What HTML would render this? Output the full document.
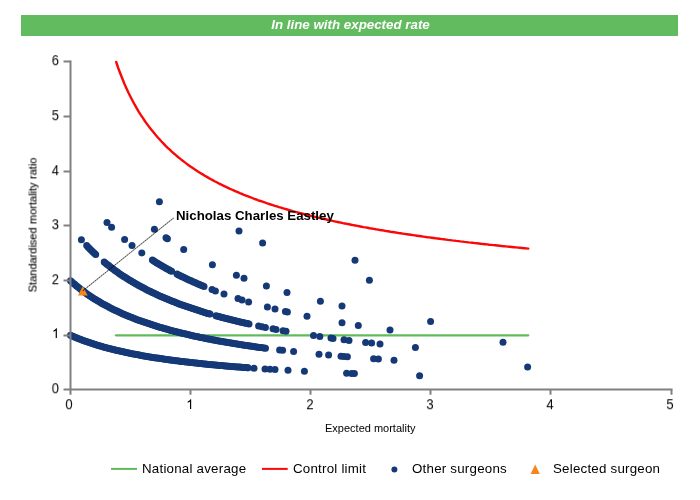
<!DOCTYPE html>
<html><head><meta charset="utf-8"><style>
html,body{margin:0;padding:0;background:#fff;}
body{width:700px;height:500px;position:relative;overflow:hidden;font-family:"Liberation Sans",sans-serif;color:#000;}
.t{position:absolute;white-space:nowrap;line-height:1;will-change:transform;}
#bar{position:absolute;left:21px;top:15px;width:657px;height:21px;background:#62bb5e;}
#title{left:22.2px;width:657px;top:17.5px;text-align:center;color:#fff;font-weight:bold;font-style:italic;font-size:13.33px;}
.yl{font-size:13.4px;width:40px;text-align:right;left:19px;transform-origin:100% 50%;transform:scale(0.96,1.1);}
.xl{font-size:13.4px;width:40px;text-align:center;transform-origin:50% 50%;transform:scale(0.96,1.1);}
.lg{font-size:13.33px;letter-spacing:0.22px;top:462.0px;}
</style></head><body>
<div id="bar"></div>
<div id="title" class="t">In line with expected rate</div>
<svg width="700" height="500" viewBox="0 0 700 500" style="position:absolute;left:0;top:0">
<line x1="115.8" y1="335.3" x2="528.3" y2="335.3" stroke="#62bb5b" stroke-width="2.2" stroke-linecap="round"/>
<path d="M116.2 62.0 L118.2 68.0 L120.3 73.5 L122.4 78.8 L124.4 83.7 L126.5 88.4 L128.5 92.8 L130.6 97.0 L132.7 101.0 L134.7 104.7 L136.8 108.3 L138.8 111.8 L140.9 115.1 L143.0 118.2 L145.0 121.2 L147.1 124.1 L149.1 126.9 L151.2 129.6 L153.3 132.1 L155.3 134.6 L157.4 137.0 L159.5 139.3 L161.5 141.5 L163.6 143.7 L165.6 145.8 L167.7 147.8 L169.8 149.7 L171.8 151.6 L173.9 153.5 L175.9 155.2 L178.0 157.0 L180.1 158.6 L182.1 160.3 L184.2 161.9 L186.2 163.4 L188.3 164.9 L190.4 166.4 L192.4 167.8 L194.5 169.2 L196.5 170.6 L198.6 171.9 L200.7 173.2 L202.7 174.4 L204.8 175.7 L206.9 176.9 L208.9 178.1 L211.0 179.2 L213.0 180.4 L215.1 181.5 L217.2 182.5 L219.2 183.6 L221.3 184.6 L223.3 185.6 L225.4 186.6 L227.5 187.6 L229.5 188.6 L231.6 189.5 L233.6 190.4 L235.7 191.3 L237.8 192.2 L239.8 193.1 L241.9 193.9 L243.9 194.8 L246.0 195.6 L248.1 196.4 L250.1 197.2 L252.2 198.0 L254.3 198.8 L256.3 199.5 L258.4 200.3 L260.4 201.0 L262.5 201.7 L264.6 202.4 L266.6 203.1 L268.7 203.8 L270.7 204.5 L272.8 205.1 L274.9 205.8 L276.9 206.4 L279.0 207.1 L281.0 207.7 L283.1 208.3 L285.2 208.9 L287.2 209.5 L289.3 210.1 L291.3 210.7 L293.4 211.3 L295.5 211.8 L297.5 212.4 L299.6 213.0 L301.7 213.5 L303.7 214.0 L305.8 214.6 L307.8 215.1 L309.9 215.6 L312.0 216.1 L314.0 216.6 L316.1 217.1 L318.1 217.6 L320.2 218.1 L322.3 218.6 L324.3 219.0 L326.4 219.5 L328.4 220.0 L330.5 220.4 L332.6 220.9 L334.6 221.3 L336.7 221.8 L338.7 222.2 L340.8 222.6 L342.9 223.1 L344.9 223.5 L347.0 223.9 L349.0 224.3 L351.1 224.7 L353.2 225.1 L355.2 225.5 L357.3 225.9 L359.4 226.3 L361.4 226.7 L363.5 227.1 L365.5 227.4 L367.6 227.8 L369.7 228.2 L371.7 228.5 L373.8 228.9 L375.8 229.3 L377.9 229.6 L380.0 230.0 L382.0 230.3 L384.1 230.6 L386.1 231.0 L388.2 231.3 L390.3 231.7 L392.3 232.0 L394.4 232.3 L396.4 232.6 L398.5 233.0 L400.6 233.3 L402.6 233.6 L404.7 233.9 L406.8 234.2 L408.8 234.5 L410.9 234.8 L412.9 235.1 L415.0 235.4 L417.1 235.7 L419.1 236.0 L421.2 236.3 L423.2 236.6 L425.3 236.9 L427.4 237.2 L429.4 237.4 L431.5 237.7 L433.5 238.0 L435.6 238.3 L437.7 238.5 L439.7 238.8 L441.8 239.1 L443.8 239.3 L445.9 239.6 L448.0 239.9 L450.0 240.1 L452.1 240.4 L454.2 240.6 L456.2 240.9 L458.3 241.1 L460.3 241.4 L462.4 241.6 L464.5 241.9 L466.5 242.1 L468.6 242.4 L470.6 242.6 L472.7 242.8 L474.8 243.1 L476.8 243.3 L478.9 243.5 L480.9 243.8 L483.0 244.0 L485.1 244.2 L487.1 244.4 L489.2 244.7 L491.2 244.9 L493.3 245.1 L495.4 245.3 L497.4 245.5 L499.5 245.7 L501.6 246.0 L503.6 246.2 L505.7 246.4 L507.7 246.6 L509.8 246.8 L511.9 247.0 L513.9 247.2 L516.0 247.4 L518.0 247.6 L520.1 247.8 L522.2 248.0 L524.2 248.2 L526.3 248.4 L528.3 248.6" stroke="#fa0808" stroke-width="2.4" fill="none" stroke-linecap="round"/>
<g fill="#153977"><circle cx="70.5" cy="335.2" r="3.5"/><circle cx="72.0" cy="335.9" r="3.5"/><circle cx="73.5" cy="336.6" r="3.5"/><circle cx="75.0" cy="337.2" r="3.5"/><circle cx="76.5" cy="337.8" r="3.5"/><circle cx="78.0" cy="338.4" r="3.5"/><circle cx="79.5" cy="339.0" r="3.5"/><circle cx="81.0" cy="339.6" r="3.5"/><circle cx="82.5" cy="340.2" r="3.5"/><circle cx="84.0" cy="340.7" r="3.5"/><circle cx="85.5" cy="341.3" r="3.5"/><circle cx="87.0" cy="341.8" r="3.5"/><circle cx="88.5" cy="342.3" r="3.5"/><circle cx="90.0" cy="342.8" r="3.5"/><circle cx="91.5" cy="343.3" r="3.5"/><circle cx="93.0" cy="343.8" r="3.5"/><circle cx="94.5" cy="344.3" r="3.5"/><circle cx="96.0" cy="344.8" r="3.5"/><circle cx="97.5" cy="345.2" r="3.5"/><circle cx="99.0" cy="345.7" r="3.5"/><circle cx="100.5" cy="346.1" r="3.5"/><circle cx="102.0" cy="346.6" r="3.5"/><circle cx="103.5" cy="347.0" r="3.5"/><circle cx="105.0" cy="347.4" r="3.5"/><circle cx="106.5" cy="347.8" r="3.5"/><circle cx="108.0" cy="348.2" r="3.5"/><circle cx="109.5" cy="348.6" r="3.5"/><circle cx="111.0" cy="349.0" r="3.5"/><circle cx="112.5" cy="349.3" r="3.5"/><circle cx="114.0" cy="349.7" r="3.5"/><circle cx="115.5" cy="350.1" r="3.5"/><circle cx="117.0" cy="350.4" r="3.5"/><circle cx="118.5" cy="350.8" r="3.5"/><circle cx="120.0" cy="351.1" r="3.5"/><circle cx="121.5" cy="351.5" r="3.5"/><circle cx="123.0" cy="351.8" r="3.5"/><circle cx="124.5" cy="352.1" r="3.5"/><circle cx="126.0" cy="352.5" r="3.5"/><circle cx="127.5" cy="352.8" r="3.5"/><circle cx="129.0" cy="353.1" r="3.5"/><circle cx="130.5" cy="353.4" r="3.5"/><circle cx="132.0" cy="353.7" r="3.5"/><circle cx="133.5" cy="354.0" r="3.5"/><circle cx="135.0" cy="354.3" r="3.5"/><circle cx="136.5" cy="354.6" r="3.5"/><circle cx="138.0" cy="354.8" r="3.5"/><circle cx="139.5" cy="355.1" r="3.5"/><circle cx="141.0" cy="355.4" r="3.5"/><circle cx="142.5" cy="355.7" r="3.5"/><circle cx="144.0" cy="355.9" r="3.5"/><circle cx="145.5" cy="356.2" r="3.5"/><circle cx="147.0" cy="356.4" r="3.5"/><circle cx="148.5" cy="356.7" r="3.5"/><circle cx="150.0" cy="356.9" r="3.5"/><circle cx="151.5" cy="357.2" r="3.5"/><circle cx="153.0" cy="357.4" r="3.5"/><circle cx="154.5" cy="357.7" r="3.5"/><circle cx="156.0" cy="357.9" r="3.5"/><circle cx="157.5" cy="358.1" r="3.5"/><circle cx="159.0" cy="358.3" r="3.5"/><circle cx="160.5" cy="358.6" r="3.5"/><circle cx="162.0" cy="358.8" r="3.5"/><circle cx="163.5" cy="359.0" r="3.5"/><circle cx="165.0" cy="359.2" r="3.5"/><circle cx="166.5" cy="359.4" r="3.5"/><circle cx="168.0" cy="359.6" r="3.5"/><circle cx="169.5" cy="359.9" r="3.5"/><circle cx="171.0" cy="360.1" r="3.5"/><circle cx="172.5" cy="360.3" r="3.5"/><circle cx="174.0" cy="360.5" r="3.5"/><circle cx="175.5" cy="360.7" r="3.5"/><circle cx="177.0" cy="360.8" r="3.5"/><circle cx="178.5" cy="361.0" r="3.5"/><circle cx="180.0" cy="361.2" r="3.5"/><circle cx="181.5" cy="361.4" r="3.5"/><circle cx="183.0" cy="361.6" r="3.5"/><circle cx="184.5" cy="361.8" r="3.5"/><circle cx="186.0" cy="361.9" r="3.5"/><circle cx="187.5" cy="362.1" r="3.5"/><circle cx="189.0" cy="362.3" r="3.5"/><circle cx="190.5" cy="362.5" r="3.5"/><circle cx="192.0" cy="362.6" r="3.5"/><circle cx="193.5" cy="362.8" r="3.5"/><circle cx="195.0" cy="363.0" r="3.5"/><circle cx="196.5" cy="363.1" r="3.5"/><circle cx="198.0" cy="363.3" r="3.5"/><circle cx="199.5" cy="363.5" r="3.5"/><circle cx="201.0" cy="363.6" r="3.5"/><circle cx="202.5" cy="363.8" r="3.5"/><circle cx="204.0" cy="363.9" r="3.5"/><circle cx="205.5" cy="364.1" r="3.5"/><circle cx="207.0" cy="364.2" r="3.5"/><circle cx="208.5" cy="364.4" r="3.5"/><circle cx="210.0" cy="364.5" r="3.5"/><circle cx="211.5" cy="364.7" r="3.5"/><circle cx="213.0" cy="364.8" r="3.5"/><circle cx="214.5" cy="364.9" r="3.5"/><circle cx="216.0" cy="365.1" r="3.5"/><circle cx="217.5" cy="365.2" r="3.5"/><circle cx="219.0" cy="365.4" r="3.5"/><circle cx="220.5" cy="365.5" r="3.5"/><circle cx="222.0" cy="365.6" r="3.5"/><circle cx="223.5" cy="365.8" r="3.5"/><circle cx="225.0" cy="365.9" r="3.5"/><circle cx="226.5" cy="366.0" r="3.5"/><circle cx="228.0" cy="366.2" r="3.5"/><circle cx="229.5" cy="366.3" r="3.5"/><circle cx="231.0" cy="366.4" r="3.5"/><circle cx="232.5" cy="366.5" r="3.5"/><circle cx="234.0" cy="366.7" r="3.5"/><circle cx="235.5" cy="366.8" r="3.5"/><circle cx="237.0" cy="366.9" r="3.5"/><circle cx="238.5" cy="367.0" r="3.5"/><circle cx="240.0" cy="367.1" r="3.5"/><circle cx="241.5" cy="367.2" r="3.5"/><circle cx="243.0" cy="367.4" r="3.5"/><circle cx="244.5" cy="367.5" r="3.5"/><circle cx="246.0" cy="367.6" r="3.5"/><circle cx="247.5" cy="367.7" r="3.5"/><circle cx="248.0" cy="367.7" r="3.5"/><circle cx="254.0" cy="368.2" r="3.5"/><circle cx="265.0" cy="368.9" r="3.5"/><circle cx="270.0" cy="369.3" r="3.5"/><circle cx="275.0" cy="369.6" r="3.5"/><circle cx="288.0" cy="370.3" r="3.5"/><circle cx="304.4" cy="371.2" r="3.5"/><circle cx="346.6" cy="373.2" r="3.5"/><circle cx="351.6" cy="373.4" r="3.5"/><circle cx="354.4" cy="373.5" r="3.5"/><circle cx="419.6" cy="375.8" r="3.5"/><circle cx="70.5" cy="280.7" r="3.5"/><circle cx="72.0" cy="282.1" r="3.5"/><circle cx="73.5" cy="283.4" r="3.5"/><circle cx="75.0" cy="284.6" r="3.5"/><circle cx="76.5" cy="285.9" r="3.5"/><circle cx="78.0" cy="287.1" r="3.5"/><circle cx="79.5" cy="288.3" r="3.5"/><circle cx="81.0" cy="289.5" r="3.5"/><circle cx="82.5" cy="290.6" r="3.5"/><circle cx="84.0" cy="291.7" r="3.5"/><circle cx="85.5" cy="292.8" r="3.5"/><circle cx="87.0" cy="293.9" r="3.5"/><circle cx="88.5" cy="294.9" r="3.5"/><circle cx="90.0" cy="295.9" r="3.5"/><circle cx="91.5" cy="296.9" r="3.5"/><circle cx="93.0" cy="297.9" r="3.5"/><circle cx="94.5" cy="298.9" r="3.5"/><circle cx="96.0" cy="299.8" r="3.5"/><circle cx="97.5" cy="300.7" r="3.5"/><circle cx="99.0" cy="301.6" r="3.5"/><circle cx="100.5" cy="302.5" r="3.5"/><circle cx="102.0" cy="303.4" r="3.5"/><circle cx="103.5" cy="304.2" r="3.5"/><circle cx="105.0" cy="305.0" r="3.5"/><circle cx="106.5" cy="305.8" r="3.5"/><circle cx="108.0" cy="306.6" r="3.5"/><circle cx="109.5" cy="307.4" r="3.5"/><circle cx="111.0" cy="308.2" r="3.5"/><circle cx="112.5" cy="308.9" r="3.5"/><circle cx="114.0" cy="309.7" r="3.5"/><circle cx="115.5" cy="310.4" r="3.5"/><circle cx="117.0" cy="311.1" r="3.5"/><circle cx="118.5" cy="311.8" r="3.5"/><circle cx="120.0" cy="312.5" r="3.5"/><circle cx="121.5" cy="313.2" r="3.5"/><circle cx="123.0" cy="313.9" r="3.5"/><circle cx="124.5" cy="314.5" r="3.5"/><circle cx="126.0" cy="315.2" r="3.5"/><circle cx="127.5" cy="315.8" r="3.5"/><circle cx="129.0" cy="316.4" r="3.5"/><circle cx="130.5" cy="317.0" r="3.5"/><circle cx="132.0" cy="317.6" r="3.5"/><circle cx="133.5" cy="318.2" r="3.5"/><circle cx="135.0" cy="318.8" r="3.5"/><circle cx="136.5" cy="319.4" r="3.5"/><circle cx="138.0" cy="319.9" r="3.5"/><circle cx="139.5" cy="320.5" r="3.5"/><circle cx="141.0" cy="321.0" r="3.5"/><circle cx="142.5" cy="321.6" r="3.5"/><circle cx="144.0" cy="322.1" r="3.5"/><circle cx="145.5" cy="322.6" r="3.5"/><circle cx="147.0" cy="323.1" r="3.5"/><circle cx="148.5" cy="323.6" r="3.5"/><circle cx="150.0" cy="324.1" r="3.5"/><circle cx="151.5" cy="324.6" r="3.5"/><circle cx="153.0" cy="325.1" r="3.5"/><circle cx="154.5" cy="325.6" r="3.5"/><circle cx="156.0" cy="326.0" r="3.5"/><circle cx="157.5" cy="326.5" r="3.5"/><circle cx="159.0" cy="326.9" r="3.5"/><circle cx="160.5" cy="327.4" r="3.5"/><circle cx="162.0" cy="327.8" r="3.5"/><circle cx="163.5" cy="328.3" r="3.5"/><circle cx="165.0" cy="328.7" r="3.5"/><circle cx="166.5" cy="329.1" r="3.5"/><circle cx="168.0" cy="329.5" r="3.5"/><circle cx="169.5" cy="330.0" r="3.5"/><circle cx="171.0" cy="330.4" r="3.5"/><circle cx="172.5" cy="330.8" r="3.5"/><circle cx="174.0" cy="331.2" r="3.5"/><circle cx="175.5" cy="331.6" r="3.5"/><circle cx="177.0" cy="331.9" r="3.5"/><circle cx="178.5" cy="332.3" r="3.5"/><circle cx="180.0" cy="332.7" r="3.5"/><circle cx="181.5" cy="333.1" r="3.5"/><circle cx="183.0" cy="333.4" r="3.5"/><circle cx="184.5" cy="333.8" r="3.5"/><circle cx="186.0" cy="334.1" r="3.5"/><circle cx="187.5" cy="334.5" r="3.5"/><circle cx="189.0" cy="334.8" r="3.5"/><circle cx="190.5" cy="335.2" r="3.5"/><circle cx="192.0" cy="335.5" r="3.5"/><circle cx="193.5" cy="335.9" r="3.5"/><circle cx="195.0" cy="336.2" r="3.5"/><circle cx="196.5" cy="336.5" r="3.5"/><circle cx="198.0" cy="336.8" r="3.5"/><circle cx="199.5" cy="337.2" r="3.5"/><circle cx="201.0" cy="337.5" r="3.5"/><circle cx="202.5" cy="337.8" r="3.5"/><circle cx="204.0" cy="338.1" r="3.5"/><circle cx="205.5" cy="338.4" r="3.5"/><circle cx="207.0" cy="338.7" r="3.5"/><circle cx="208.5" cy="339.0" r="3.5"/><circle cx="210.0" cy="339.3" r="3.5"/><circle cx="211.5" cy="339.6" r="3.5"/><circle cx="213.0" cy="339.9" r="3.5"/><circle cx="214.5" cy="340.1" r="3.5"/><circle cx="216.0" cy="340.4" r="3.5"/><circle cx="217.5" cy="340.7" r="3.5"/><circle cx="219.0" cy="341.0" r="3.5"/><circle cx="220.5" cy="341.2" r="3.5"/><circle cx="222.0" cy="341.5" r="3.5"/><circle cx="223.5" cy="341.8" r="3.5"/><circle cx="225.0" cy="342.0" r="3.5"/><circle cx="226.5" cy="342.3" r="3.5"/><circle cx="228.0" cy="342.6" r="3.5"/><circle cx="229.5" cy="342.8" r="3.5"/><circle cx="231.0" cy="343.1" r="3.5"/><circle cx="232.5" cy="343.3" r="3.5"/><circle cx="234.0" cy="343.6" r="3.5"/><circle cx="235.5" cy="343.8" r="3.5"/><circle cx="237.0" cy="344.0" r="3.5"/><circle cx="238.5" cy="344.3" r="3.5"/><circle cx="240.0" cy="344.5" r="3.5"/><circle cx="241.5" cy="344.7" r="3.5"/><circle cx="243.0" cy="345.0" r="3.5"/><circle cx="244.5" cy="345.2" r="3.5"/><circle cx="246.0" cy="345.4" r="3.5"/><circle cx="247.5" cy="345.6" r="3.5"/><circle cx="249.0" cy="345.9" r="3.5"/><circle cx="250.5" cy="346.1" r="3.5"/><circle cx="252.0" cy="346.3" r="3.5"/><circle cx="253.5" cy="346.5" r="3.5"/><circle cx="255.0" cy="346.7" r="3.5"/><circle cx="256.5" cy="346.9" r="3.5"/><circle cx="258.0" cy="347.2" r="3.5"/><circle cx="259.5" cy="347.4" r="3.5"/><circle cx="261.0" cy="347.6" r="3.5"/><circle cx="262.5" cy="347.8" r="3.5"/><circle cx="264.0" cy="348.0" r="3.5"/><circle cx="265.5" cy="348.2" r="3.5"/><circle cx="279.6" cy="349.9" r="3.5"/><circle cx="282.6" cy="350.3" r="3.5"/><circle cx="293.6" cy="351.6" r="3.5"/><circle cx="319.0" cy="354.2" r="3.5"/><circle cx="328.6" cy="355.1" r="3.5"/><circle cx="341.0" cy="356.2" r="3.5"/><circle cx="344.0" cy="356.5" r="3.5"/><circle cx="347.4" cy="356.7" r="3.5"/><circle cx="373.6" cy="358.8" r="3.5"/><circle cx="378.4" cy="359.1" r="3.5"/><circle cx="394.0" cy="360.2" r="3.5"/><circle cx="527.6" cy="367.0" r="3.5"/><circle cx="81.4" cy="239.8" r="3.5"/><circle cx="86.7" cy="245.6" r="3.5"/><circle cx="88.2" cy="247.2" r="3.5"/><circle cx="89.7" cy="248.7" r="3.5"/><circle cx="91.2" cy="250.2" r="3.5"/><circle cx="92.7" cy="251.7" r="3.5"/><circle cx="94.2" cy="253.1" r="3.5"/><circle cx="95.7" cy="254.5" r="3.5"/><circle cx="104.2" cy="262.0" r="3.5"/><circle cx="105.7" cy="263.2" r="3.5"/><circle cx="107.2" cy="264.4" r="3.5"/><circle cx="108.7" cy="265.6" r="3.5"/><circle cx="110.2" cy="266.8" r="3.5"/><circle cx="111.7" cy="267.9" r="3.5"/><circle cx="113.2" cy="269.1" r="3.5"/><circle cx="114.7" cy="270.2" r="3.5"/><circle cx="116.2" cy="271.2" r="3.5"/><circle cx="117.7" cy="272.3" r="3.5"/><circle cx="119.2" cy="273.4" r="3.5"/><circle cx="120.7" cy="274.4" r="3.5"/><circle cx="122.2" cy="275.4" r="3.5"/><circle cx="123.7" cy="276.4" r="3.5"/><circle cx="125.2" cy="277.3" r="3.5"/><circle cx="126.7" cy="278.3" r="3.5"/><circle cx="128.2" cy="279.2" r="3.5"/><circle cx="129.7" cy="280.2" r="3.5"/><circle cx="131.2" cy="281.1" r="3.5"/><circle cx="132.7" cy="282.0" r="3.5"/><circle cx="134.2" cy="282.8" r="3.5"/><circle cx="135.7" cy="283.7" r="3.5"/><circle cx="137.2" cy="284.6" r="3.5"/><circle cx="138.7" cy="285.4" r="3.5"/><circle cx="140.2" cy="286.2" r="3.5"/><circle cx="141.7" cy="287.0" r="3.5"/><circle cx="143.2" cy="287.8" r="3.5"/><circle cx="144.7" cy="288.6" r="3.5"/><circle cx="146.2" cy="289.4" r="3.5"/><circle cx="147.7" cy="290.2" r="3.5"/><circle cx="149.2" cy="290.9" r="3.5"/><circle cx="150.7" cy="291.6" r="3.5"/><circle cx="152.2" cy="292.4" r="3.5"/><circle cx="153.7" cy="293.1" r="3.5"/><circle cx="155.2" cy="293.8" r="3.5"/><circle cx="156.7" cy="294.5" r="3.5"/><circle cx="158.2" cy="295.2" r="3.5"/><circle cx="159.7" cy="295.9" r="3.5"/><circle cx="161.2" cy="296.5" r="3.5"/><circle cx="162.7" cy="297.2" r="3.5"/><circle cx="164.2" cy="297.8" r="3.5"/><circle cx="165.7" cy="298.5" r="3.5"/><circle cx="167.2" cy="299.1" r="3.5"/><circle cx="168.7" cy="299.7" r="3.5"/><circle cx="170.2" cy="300.3" r="3.5"/><circle cx="171.7" cy="301.0" r="3.5"/><circle cx="173.2" cy="301.5" r="3.5"/><circle cx="174.7" cy="302.1" r="3.5"/><circle cx="176.2" cy="302.7" r="3.5"/><circle cx="177.7" cy="303.3" r="3.5"/><circle cx="179.2" cy="303.9" r="3.5"/><circle cx="180.7" cy="304.4" r="3.5"/><circle cx="182.2" cy="305.0" r="3.5"/><circle cx="183.7" cy="305.5" r="3.5"/><circle cx="185.2" cy="306.1" r="3.5"/><circle cx="186.7" cy="306.6" r="3.5"/><circle cx="188.2" cy="307.1" r="3.5"/><circle cx="189.7" cy="307.6" r="3.5"/><circle cx="191.2" cy="308.1" r="3.5"/><circle cx="192.7" cy="308.6" r="3.5"/><circle cx="194.2" cy="309.1" r="3.5"/><circle cx="195.7" cy="309.6" r="3.5"/><circle cx="197.2" cy="310.1" r="3.5"/><circle cx="198.7" cy="310.6" r="3.5"/><circle cx="200.2" cy="311.1" r="3.5"/><circle cx="201.7" cy="311.5" r="3.5"/><circle cx="203.2" cy="312.0" r="3.5"/><circle cx="204.7" cy="312.5" r="3.5"/><circle cx="206.2" cy="312.9" r="3.5"/><circle cx="207.7" cy="313.4" r="3.5"/><circle cx="209.2" cy="313.8" r="3.5"/><circle cx="210.0" cy="314.0" r="3.5"/><circle cx="216.0" cy="315.8" r="3.5"/><circle cx="217.5" cy="316.2" r="3.5"/><circle cx="219.0" cy="316.6" r="3.5"/><circle cx="220.5" cy="317.0" r="3.5"/><circle cx="222.0" cy="317.4" r="3.5"/><circle cx="223.5" cy="317.8" r="3.5"/><circle cx="225.0" cy="318.2" r="3.5"/><circle cx="226.5" cy="318.6" r="3.5"/><circle cx="228.0" cy="319.0" r="3.5"/><circle cx="229.5" cy="319.3" r="3.5"/><circle cx="231.0" cy="319.7" r="3.5"/><circle cx="232.5" cy="320.1" r="3.5"/><circle cx="234.0" cy="320.5" r="3.5"/><circle cx="235.5" cy="320.8" r="3.5"/><circle cx="237.0" cy="321.2" r="3.5"/><circle cx="238.5" cy="321.5" r="3.5"/><circle cx="240.0" cy="321.9" r="3.5"/><circle cx="241.5" cy="322.2" r="3.5"/><circle cx="243.0" cy="322.6" r="3.5"/><circle cx="244.5" cy="322.9" r="3.5"/><circle cx="246.0" cy="323.3" r="3.5"/><circle cx="247.5" cy="323.6" r="3.5"/><circle cx="249.0" cy="323.9" r="3.5"/><circle cx="258.6" cy="326.0" r="3.5"/><circle cx="262.0" cy="326.7" r="3.5"/><circle cx="265.4" cy="327.4" r="3.5"/><circle cx="273.0" cy="328.8" r="3.5"/><circle cx="276.0" cy="329.4" r="3.5"/><circle cx="283.0" cy="330.7" r="3.5"/><circle cx="286.0" cy="331.2" r="3.5"/><circle cx="313.5" cy="335.6" r="3.5"/><circle cx="319.8" cy="336.5" r="3.5"/><circle cx="331.0" cy="338.1" r="3.5"/><circle cx="333.0" cy="338.4" r="3.5"/><circle cx="344.0" cy="339.8" r="3.5"/><circle cx="349.0" cy="340.4" r="3.5"/><circle cx="365.6" cy="342.4" r="3.5"/><circle cx="371.6" cy="343.1" r="3.5"/><circle cx="380.0" cy="344.0" r="3.5"/><circle cx="415.4" cy="347.5" r="3.5"/><circle cx="107.0" cy="222.5" r="3.5"/><circle cx="111.6" cy="227.2" r="3.5"/><circle cx="124.6" cy="239.4" r="3.5"/><circle cx="132.0" cy="245.5" r="3.5"/><circle cx="141.8" cy="252.9" r="3.5"/><circle cx="152.4" cy="260.0" r="3.5"/><circle cx="153.9" cy="261.0" r="3.5"/><circle cx="155.4" cy="261.9" r="3.5"/><circle cx="156.9" cy="262.9" r="3.5"/><circle cx="158.4" cy="263.8" r="3.5"/><circle cx="159.9" cy="264.7" r="3.5"/><circle cx="161.4" cy="265.6" r="3.5"/><circle cx="162.9" cy="266.5" r="3.5"/><circle cx="164.4" cy="267.3" r="3.5"/><circle cx="165.9" cy="268.2" r="3.5"/><circle cx="167.4" cy="269.0" r="3.5"/><circle cx="168.9" cy="269.8" r="3.5"/><circle cx="170.4" cy="270.7" r="3.5"/><circle cx="171.6" cy="271.3" r="3.5"/><circle cx="177.0" cy="274.1" r="3.5"/><circle cx="178.5" cy="274.9" r="3.5"/><circle cx="180.0" cy="275.6" r="3.5"/><circle cx="181.5" cy="276.4" r="3.5"/><circle cx="183.0" cy="277.1" r="3.5"/><circle cx="184.5" cy="277.8" r="3.5"/><circle cx="186.0" cy="278.5" r="3.5"/><circle cx="187.5" cy="279.2" r="3.5"/><circle cx="189.0" cy="279.9" r="3.5"/><circle cx="190.5" cy="280.6" r="3.5"/><circle cx="192.0" cy="281.3" r="3.5"/><circle cx="193.5" cy="282.0" r="3.5"/><circle cx="195.0" cy="282.6" r="3.5"/><circle cx="196.5" cy="283.3" r="3.5"/><circle cx="198.0" cy="283.9" r="3.5"/><circle cx="199.5" cy="284.6" r="3.5"/><circle cx="201.0" cy="285.2" r="3.5"/><circle cx="202.5" cy="285.8" r="3.5"/><circle cx="204.0" cy="286.4" r="3.5"/><circle cx="212.0" cy="289.6" r="3.5"/><circle cx="215.4" cy="290.9" r="3.5"/><circle cx="224.0" cy="294.0" r="3.5"/><circle cx="238.0" cy="298.6" r="3.5"/><circle cx="242.0" cy="299.9" r="3.5"/><circle cx="248.6" cy="301.9" r="3.5"/><circle cx="267.4" cy="307.1" r="3.5"/><circle cx="275.0" cy="309.0" r="3.5"/><circle cx="285.4" cy="311.5" r="3.5"/><circle cx="287.4" cy="312.0" r="3.5"/><circle cx="307.0" cy="316.3" r="3.5"/><circle cx="342.0" cy="322.8" r="3.5"/><circle cx="358.3" cy="325.5" r="3.5"/><circle cx="390.0" cy="330.1" r="3.5"/><circle cx="503.0" cy="342.3" r="3.5"/><circle cx="154.4" cy="229.2" r="3.5"/><circle cx="166.0" cy="237.8" r="3.5"/><circle cx="167.4" cy="238.8" r="3.5"/><circle cx="183.7" cy="249.4" r="3.5"/><circle cx="212.4" cy="264.7" r="3.5"/><circle cx="236.4" cy="275.2" r="3.5"/><circle cx="244.0" cy="278.2" r="3.5"/><circle cx="266.4" cy="286.1" r="3.5"/><circle cx="287.0" cy="292.4" r="3.5"/><circle cx="320.4" cy="301.2" r="3.5"/><circle cx="342.0" cy="306.1" r="3.5"/><circle cx="430.6" cy="321.5" r="3.5"/><circle cx="159.4" cy="201.7" r="3.5"/><circle cx="239.0" cy="230.9" r="3.5"/><circle cx="262.6" cy="242.9" r="3.5"/><circle cx="369.4" cy="280.3" r="3.5"/><circle cx="355.0" cy="260.2" r="3.5"/></g>
<g stroke="#808080" stroke-width="2" fill="none">
<line x1="70.5" y1="60.5" x2="70.5" y2="394.7"/>
<line x1="63.5" y1="389.5" x2="672.5" y2="389.5"/>
<line x1="63.5" y1="335.5" x2="70.5" y2="335.5"/>
<line x1="63.5" y1="280.5" x2="70.5" y2="280.5"/>
<line x1="63.5" y1="225.5" x2="70.5" y2="225.5"/>
<line x1="63.5" y1="171.5" x2="70.5" y2="171.5"/>
<line x1="63.5" y1="116.5" x2="70.5" y2="116.5"/>
<line x1="63.5" y1="61.5" x2="70.5" y2="61.5"/>
<line x1="190.5" y1="389.5" x2="190.5" y2="394.7"/>
<line x1="310.5" y1="389.5" x2="310.5" y2="394.7"/>
<line x1="430.5" y1="389.5" x2="430.5" y2="394.7"/>
<line x1="550.5" y1="389.5" x2="550.5" y2="394.7"/>
<line x1="671.5" y1="389.5" x2="671.5" y2="394.7"/>
</g>
<path d="M763 0H583V1147Q518 1085 412.5 1023T223 930V1104Q374 1175 487 1276T647 1472H763Z" fill="#000" transform="translate(51.9 337.9) scale(0.00651 -0.00651)"/>
<path d="M763 0H583V1147Q518 1085 412.5 1023T223 930V1104Q374 1175 487 1276T647 1472H763Z" fill="#000" transform="translate(186.2 408.9) scale(0.00651 -0.00651)"/>
<polygon points="82.8,286.2 87.7,295.6 77.9,295.6" fill="#f5861f"/>
<line x1="82.8" y1="290.8" x2="173.6" y2="218" stroke="#000" stroke-opacity="0.3" stroke-width="1.1"/><line x1="82.8" y1="290.8" x2="173.6" y2="218" stroke="#000" stroke-opacity="0.75" stroke-width="1" stroke-dasharray="1.28 1.28"/>
<line x1="111" y1="468.9" x2="137" y2="468.9" stroke="#5fba59" stroke-width="2"/>
<line x1="262" y1="468.9" x2="287.7" y2="468.9" stroke="#fa0808" stroke-width="2"/>
<circle cx="394.4" cy="469.6" r="3" fill="#153977"/>
<polygon points="535.2,464.6 539.8,473.9 530.6,473.9" fill="#f5861f"/>
</svg>
<div class="t yl" style="top:381.6px">0</div>
<div class="t yl" style="top:327.6px;color:transparent">1</div>
<div class="t yl" style="top:272.6px">2</div>
<div class="t yl" style="top:217.6px">3</div>
<div class="t yl" style="top:163.6px">4</div>
<div class="t yl" style="top:108.6px">5</div>
<div class="t yl" style="top:53.6px">6</div>
<div class="t xl" style="left:49.4px;top:397.9px">0</div>
<div class="t xl" style="left:169.9px;top:397.9px;color:transparent">1</div>
<div class="t xl" style="left:290.1px;top:397.9px">2</div>
<div class="t xl" style="left:410.2px;top:397.9px">3</div>
<div class="t xl" style="left:530.4px;top:397.9px">4</div>
<div class="t xl" style="left:650.4px;top:397.9px">5</div>
<div class="t" style="font-size:11px;left:325.3px;top:423.1px">Expected mortality</div>
<div class="t" style="font-size:11px;word-spacing:0.4px;left:33px;top:224.8px;-webkit-text-stroke:0.12px #000;transform:translate(-50%,-50%) rotate(-90deg);">Standardised mortality ratio</div>
<div class="t" style="font-size:13.28px;font-weight:bold;left:176.0px;top:209.2px">Nicholas Charles Eastley</div>
<div class="t lg" style="left:142.1px">National average</div>
<div class="t lg" style="left:293.1px">Control limit</div>
<div class="t lg" style="left:412.3px">Other surgeons</div>
<div class="t lg" style="left:553.3px">Selected surgeon</div>
</body></html>
